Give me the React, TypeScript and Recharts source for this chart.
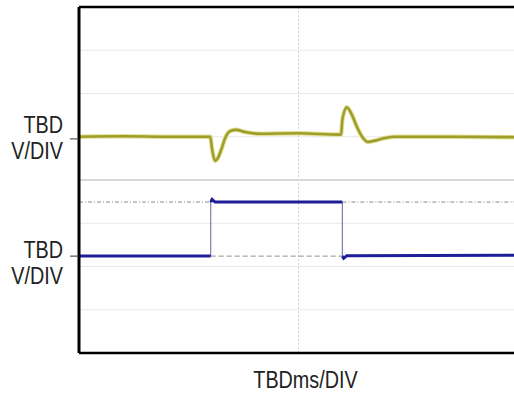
import React from 'react'
import { LineChart, Line, XAxis, YAxis, CartesianGrid, ReferenceLine } from 'recharts'

// scope screen: time in divisions (0..10), level in divisions (0..8)
const gridX = [0, 1, 2, 3, 4, 5, 6, 7, 8, 9, 10]
const gridY = [0, 1, 2, 3, 4, 5, 6, 7, 8]

const yellowTime = [0, 1.0, 2.0, 2.99, 3.03, 3.1, 3.16, 3.24, 3.33, 3.44, 3.58, 3.78, 4.1, 5.0, 5.97, 6.0, 6.1, 6.22, 6.33, 6.45, 6.58, 6.74, 6.97, 7.2, 8.5, 10]
const yellowVolts = [5.0, 5.01, 5.0, 5.0, 4.72, 4.44, 4.5, 4.7, 4.97, 5.13, 5.16, 5.11, 5.07, 5.08, 5.05, 5.4, 5.68, 5.5, 5.23, 5.0, 4.88, 4.91, 4.97, 5.0, 5.0, 4.99]

const blueTime = [0, 3.0, 3.0, 3.03, 3.1, 6.0, 6.0, 6.03, 6.1, 10]
const blueVolts = [2.24, 2.24, 3.49, 3.55, 3.49, 3.49, 2.24, 2.19, 2.25, 2.26]
const blueEdges = [2, 6] // indices where the trace jumps (drawn thin)

// scope reference markers
const highRefTime = [0, 3.0, 4.5, 6.0, 10]
const highRefVolts = [3.49, 3.49, null, 3.49, 3.49]
const lowRefTime = [3.0, 6.0]
const lowRefVolts = [2.24, 2.24]

const channelMarks = [4.95, 2.24]
const channelLabels = [['TBD', 'V/DIV'], ['TBD', 'V/DIV']]
const xLabel = 'TBDms/DIV'

const font = '"Liberation Sans", Arial, sans-serif'
const narrow = 0.86

const yellowData = yellowTime.map((t, i) => ({ t, v: yellowVolts[i] }))

const blueThick: { t: number; v: number | null }[] = []
const blueThin: { t: number; v: number | null }[] = []
blueTime.forEach((t, i) => {
  if (blueEdges.includes(i)) {
    blueThick.push({ t: (blueTime[i - 1] + t) / 2, v: null })
    blueThin.push({ t: blueTime[i - 1], v: blueVolts[i - 1] }, { t, v: blueVolts[i] }, { t, v: null })
  }
  blueThick.push({ t, v: blueVolts[i] })
})

const highRef = highRefTime.map((t, i) => ({ t, v: highRefVolts[i] }))
const lowRef = lowRefTime.map((t, i) => ({ t, v: lowRefVolts[i] }))

const ChannelTick = ({ x, y, index }: any) => {
  const shift = index === 0 ? -6 : 2
  const lines = channelLabels[index] || []
  return (
    <g transform={`translate(${x},${y}) scale(${narrow},1)`}>
      <text x={0} y={shift} textAnchor="end" fontFamily={font} fontSize={23} fill="#222">{lines[0]}</text>
      <text x={0} y={shift + 26} textAnchor="end" fontFamily={font} fontSize={23} fill="#222">{lines[1]}</text>
    </g>
  )
}

const XTitle = ({ viewBox }: any) => {
  const cx = viewBox.x + viewBox.width / 2 + 7
  const by = viewBox.y + viewBox.height - 5
  return (
    <g transform={`translate(${cx},${by}) scale(${narrow},1)`}>
      <text x={0} y={0} textAnchor="middle" fontFamily={font} fontSize={23} fill="#222">{xLabel}</text>
    </g>
  )
}

const App = () => {
  return (
    <div style={{ position: 'absolute', left: 0, top: 0, background: '#fff' }}>
      <LineChart width={520} height={393} margin={{ top: 7, right: 2, left: 0, bottom: 0 }}>
        <CartesianGrid
          stroke="#e8e8e8"
          strokeWidth={1}
          horizontalValues={gridY}
          verticalValues={gridX}
        />
        <ReferenceLine y={4} stroke="#bdbdbd" strokeWidth={1} />
        <ReferenceLine x={5} stroke="#d2d2d2" strokeWidth={1} strokeDasharray="2 2" />
        <XAxis
          type="number"
          dataKey="t"
          domain={[0, 10]}
          ticks={gridX}
          allowDataOverflow
          height={40}
          tick={false}
          tickLine={false}
          axisLine={{ stroke: '#000', strokeWidth: 2.5 }}
          label={<XTitle />}
        />
        <YAxis
          type="number"
          domain={[0, 8]}
          ticks={channelMarks}
          allowDataOverflow
          width={79}
          tickSize={9}
          tickMargin={7}
          tickLine={{ stroke: '#333', strokeWidth: 1 }}
          axisLine={{ stroke: '#000', strokeWidth: 3 }}
          tick={<ChannelTick />}
          interval={0}
        />
        <ReferenceLine y={8} stroke="#000" strokeWidth={2.5} />
        <Line data={highRef} dataKey="v" type="linear" stroke="#8a8a8a" strokeWidth={1} strokeDasharray="4 2 1 2" dot={false} isAnimationActive={false} />
        <Line data={lowRef} dataKey="v" type="linear" stroke="#8a8a8a" strokeWidth={1} strokeDasharray="5 3" dot={false} isAnimationActive={false} />
        <Line data={yellowData} dataKey="v" type="monotone" stroke="#e2e19a" strokeWidth={4.5} dot={false} isAnimationActive={false} />
        <Line data={yellowData} dataKey="v" type="monotone" stroke="#a09e2a" strokeWidth={2.6} dot={false} isAnimationActive={false} />
        <Line data={blueThin} dataKey="v" type="linear" stroke="#7d7db5" strokeWidth={1.2} dot={false} isAnimationActive={false} />
        <Line data={blueThick} dataKey="v" type="linear" stroke="#1e1e98" strokeWidth={3} dot={false} isAnimationActive={false} />
      </LineChart>
    </div>
  )
}

export default App
